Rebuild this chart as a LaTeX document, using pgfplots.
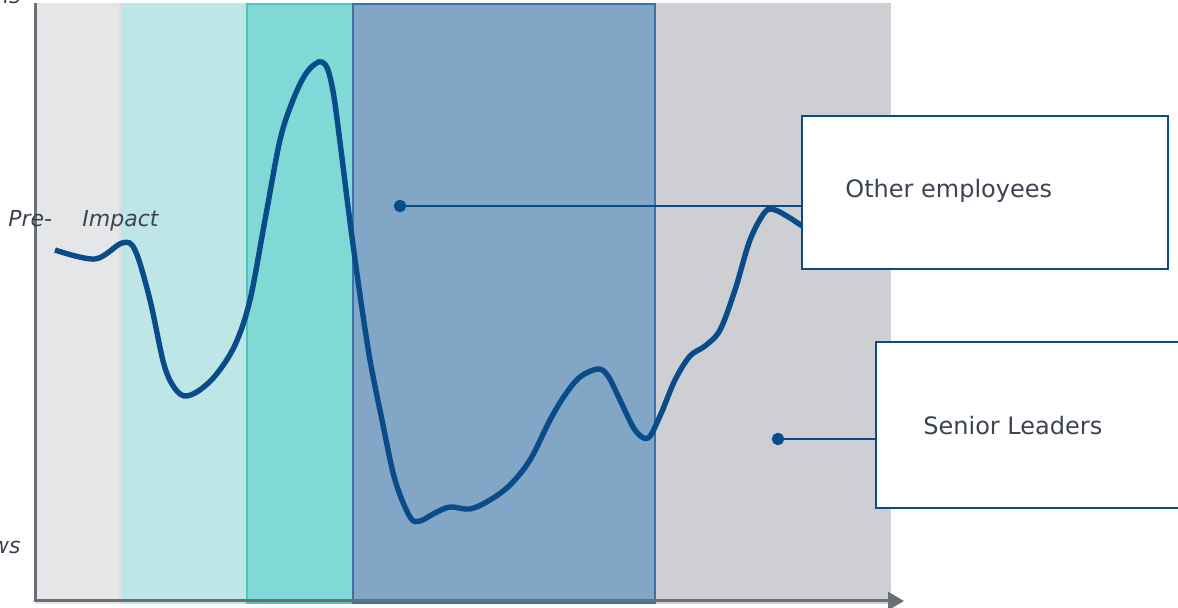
\documentclass[border=0pt]{standalone}
\usepackage{pgfplots}
\pgfplotsset{compat=1.18}
\usepackage{fontspec}
\setmainfont{DejaVu Sans}
\usetikzlibrary{arrows.meta}
\definecolor{bandA}{HTML}{E5E6E8}
\definecolor{bandB}{HTML}{BFE6E6}
\definecolor{bandC}{HTML}{80D9D6}
\definecolor{bandCb}{HTML}{50C3BF}
\definecolor{bandD}{HTML}{82A6C5}
\definecolor{bandDb}{HTML}{3E73A5}
\definecolor{bandE}{HTML}{CDCFD3}
\definecolor{curve}{HTML}{0A4C8A}
\definecolor{axisgray}{HTML}{6B6E75}
\definecolor{txt}{HTML}{3B4450}
\begin{document}
\begin{tikzpicture}
\begin{axis}[name=ax,
  scale only axis, width=589pt, height=304pt,
  xmin=0, xmax=1178, ymin=0, ymax=608, y dir=reverse,
  hide axis, clip=false]
% bands
\addplot[fill=bandA, draw=none] coordinates {(35,3) (120,3) (120,604) (35,604)} --cycle;
\addplot[fill=bandB, draw=none] coordinates {(120,3) (247,3) (247,604) (120,604)} --cycle;
\addplot[draw=black!12, line width=1pt] coordinates {(120,3) (120,604)};
\addplot[fill=bandE, draw=none] coordinates {(655,3) (891,3) (891,604) (655,604)} --cycle;
\addplot[fill=bandC, draw=bandCb, line width=1pt] coordinates {(247,4) (353,4) (353,603) (247,603)} --cycle;
\addplot[fill=bandD, draw=bandDb, line width=1pt] coordinates {(353,4) (655,4) (655,603) (353,603)} --cycle;
% curve
\addplot[curve, line width=2.7pt, smooth, tension=0.55] coordinates {
(55,250) (95,259) (122,243) (135,250) (150,300) (165,368) (180,394) (195,393)
(215,376) (235,345) (250,300) (265,220) (280,140) (293,100) (305,75) (315,64)
(322,62) (328,70) (334,97) (341,150) (350,222) (360,295) (370,360) (382,420)
(395,480) (410,517) (420,521) (435,513) (450,507) (470,509) (490,500) (510,485)
(530,460) (550,420) (565,395) (580,377) (598,369) (608,376) (620,400) (635,430)
(648,438) (660,416) (675,380) (690,356) (705,346) (720,330) (735,290) (750,240)
(765,212) (775,210) (790,218) (805,228)};
% axes
\draw[axisgray, line width=1.5pt] (axis cs:35,3) -- (axis cs:35,602);
\draw[axisgray, line width=1.5pt, -{Triangle[length=8pt,width=9pt]}] (axis cs:34,601) -- (axis cs:904,601);
% connectors
\addplot[curve, line width=1pt, mark=*, mark size=2.6pt, mark options={fill=curve}, mark indices={1}] coordinates {(400,206) (802,206)};
\addplot[curve, line width=1pt, mark=*, mark size=2.6pt, mark options={fill=curve}, mark indices={1}] coordinates {(778,439) (876,439)};
% boxes
\addplot[fill=white, draw=curve, line width=1pt] coordinates {(802,116) (1168,116) (1168,269) (802,269)} --cycle;
\addplot[fill=white, draw=curve, line width=1pt] coordinates {(876,342) (1190,342) (1190,508) (876,508)} --cycle;
\node[anchor=base west, text=txt, font=\fontsize{12}{14}\selectfont, inner sep=0pt] at (axis cs:845,198) {Other employees};
\node[anchor=base west, text=txt, font=\fontsize{12}{14}\selectfont, inner sep=0pt] at (axis cs:923,435) {Senior Leaders};
% side labels
\node[anchor=base west, text=txt, font=\fontsize{11}{13}\selectfont\itshape, inner sep=0pt] at (axis cs:8,227) {Pre-};
\node[anchor=base west, text=txt, font=\fontsize{11}{13}\selectfont\itshape, inner sep=0pt] at (axis cs:82,227) {Impact};
\node[anchor=base east, text=txt, font=\fontsize{11}{13}\selectfont\itshape, inner sep=0pt] at (axis cs:21,4) {ns};
\node[anchor=base east, text=txt, font=\fontsize{11}{13}\selectfont\itshape, inner sep=0pt] at (axis cs:21,554) {ws};
\end{axis}
\pgfresetboundingbox
\path[use as bounding box] (ax.south west) rectangle (ax.north east);
\end{tikzpicture}
\end{document}
